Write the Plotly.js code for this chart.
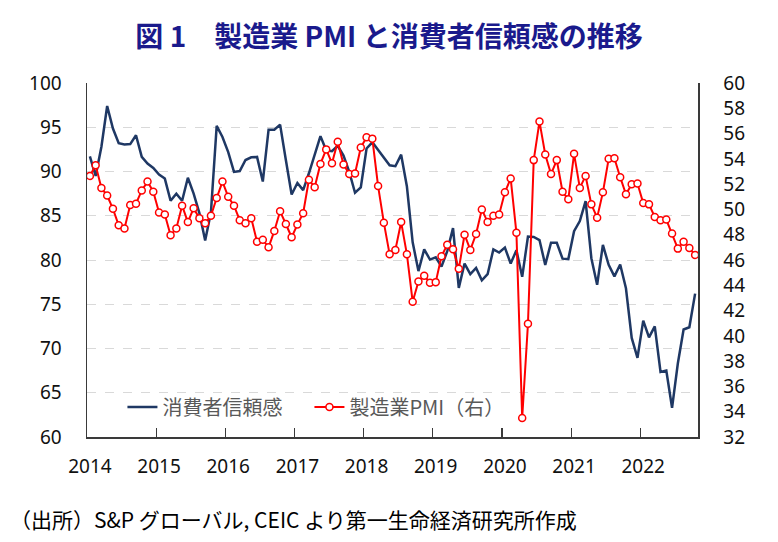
<!DOCTYPE html>
<html>
<head>
<meta charset="utf-8">
<script src="https://cdn.plot.ly/plotly-3.0.1.min.js"></script>
<style>html,body{margin:0;padding:0;background:#fff;}#chart{width:778px;height:542px;}</style>
</head>
<body>
<div id="chart"></div>
<script>
// Monthly data, Jan 2014 – Oct 2022
const yearLabels = ['2014','2015','2016','2017','2018','2019','2020','2021','2022'];

// 消費者信頼感 (left axis)
const consumerConfidence = [
  91.7, 89.5, 92.8, 97.4, 94.85, 93.2, 93.05, 93.1, 94.1, 91.65, 90.9, 90.4,
  89.65, 89.2, 86.7, 87.5, 86.7, 89.3, 87.5, 85.3, 82.2, 85.4, 95.15, 93.9,
  92.2, 89.95, 90.05, 91.3, 91.6, 91.65, 88.87, 94.73, 94.73, 95.3, 91.3, 87.4,
  88.7, 87.9, 89.8, 91.9, 94.0, 92.4, 92.3, 92.9, 91.8, 89.95, 87.6, 88.2,
  92.6, 93.3, 92.4, 91.55, 90.7, 90.6, 91.9, 88.3, 82.0, 78.75, 81.2, 80.05,
  80.3, 79.25, 81.0, 83.6, 76.85, 79.6, 78.4, 79.1, 77.7, 78.4, 81.2, 80.85,
  81.4, 79.6, 81.1, 78.1, 82.65, 82.6, 82.25, 79.45, 81.95, 81.95, 80.15, 80.1,
  83.25, 84.4, 86.65, 80.2, 77.2, 81.7, 79.45, 78.15, 79.5, 76.8, 71.2, 68.95,
  73.15, 71.25, 72.5, 67.35, 67.5, 63.3, 68.3, 72.15, 72.4, 76.2
];

// 製造業PMI (right axis)
const manufacturingPMI = [
  52.65, 53.5, 51.7, 51.1, 50.05, 48.75, 48.5, 50.35, 50.45, 51.5, 52.2, 51.4,
  49.75, 49.6, 47.95, 48.5, 50.3, 49.0, 50.1, 49.3, 48.9, 49.5, 50.9, 52.2,
  51.0, 50.3, 49.15, 48.9, 49.3, 47.45, 47.6, 47.0, 48.3, 49.85, 48.85, 47.8,
  48.8, 49.7, 52.35, 51.75, 53.6, 54.75, 53.65, 55.35, 53.55, 52.8, 52.85, 54.9,
  55.7, 55.6, 51.85, 48.95, 46.45, 46.8, 49.0, 46.45, 42.7, 44.3, 44.75, 44.2,
  44.25, 46.3, 47.2, 46.85, 45.3, 48.0, 46.8, 48.05, 50.0, 49.0, 49.5, 49.6,
  51.35, 52.45, 48.15, 33.5, 40.95, 53.9, 56.95, 54.35, 52.8, 53.9, 51.4, 50.8,
  54.4, 51.7, 52.65, 50.4, 49.35, 51.35, 54.0, 54.05, 52.55, 51.2, 52.0, 52.05,
  50.5, 50.4, 49.4, 49.15, 49.2, 48.1, 46.9, 47.45, 46.95, 46.4
];

const monthIndex = consumerConfidence.map((_, i) => i);
const yearTickPos = yearLabels.map((_, k) => k * 12);          // label at January
const yearBoundaryPos = yearLabels.slice(1).map((_, k) => (k + 1) * 12 - 0.5); // tick marks between Dec and Jan
const xRange = [-0.5, monthIndex.length - 0.5];

const tickFont = {family: 'Noto Sans, DejaVu Sans, sans-serif', size: 19, color: '#111'};
const lineColor = '#3a3a3a';

const traces = [
  {
    x: monthIndex, y: consumerConfidence, name: '消費者信頼感',
    type: 'scatter', mode: 'lines',
    line: {color: '#1F3864', width: 2.5},
    xaxis: 'x', yaxis: 'y'
  },
  {
    x: monthIndex, y: manufacturingPMI, name: '製造業PMI（右）',
    type: 'scatter', mode: 'lines+markers',
    line: {color: '#FF0000', width: 2},
    marker: {symbol: 'circle', size: 7, color: '#FFFFFF', line: {color: '#FF0000', width: 1.5}},
    xaxis: 'x2', yaxis: 'y2'
  }
];

const layout = {
  width: 778, height: 542,
  margin: {l: 87, r: 80, t: 83, b: 105},
  paper_bgcolor: '#fff', plot_bgcolor: '#fff',
  title: {
    text: '<b>図 1　製造業 PMI と消費者信頼感の推移</b>',
    font: {family: 'Noto Sans CJK JP, sans-serif', size: 28, color: '#1A1A8C'},
    x: 0.5, xanchor: 'center', xref: 'container',
    y: 1 - 37 / 542, yanchor: 'middle', yref: 'container'
  },
  showlegend: true,
  legend: {
    orientation: 'h', x: 0.058, xanchor: 'left', y: 0.085, yanchor: 'middle',
    bgcolor: 'rgba(0,0,0,0)',
    font: {family: 'Noto Sans CJK JP, sans-serif', size: 20, color: '#595959'},
    itemwidth: 30, traceorder: 'normal',
    entrywidth: 142, entrywidthmode: 'pixels'
  },
  xaxis: {
    range: xRange, tickmode: 'array', tickvals: yearTickPos, ticktext: yearLabels,
    ticks: '', showgrid: false, zeroline: false,
    showline: true, linecolor: lineColor, linewidth: 1.5,
    tickfont: tickFont, ticklabelstandoff: 12
  },
  xaxis2: {
    range: xRange, overlaying: 'x', anchor: 'y', side: 'bottom',
    tickmode: 'array', tickvals: yearBoundaryPos,
    ticks: 'inside', ticklen: 9, tickwidth: 1.2, tickcolor: lineColor,
    showticklabels: false, showgrid: false, zeroline: false, showline: false
  },
  yaxis: {
    range: [60, 100], dtick: 5, tick0: 60,
    showgrid: true, gridcolor: '#D9D9D9', griddash: 'dash', gridwidth: 1,
    zeroline: false, ticks: '',
    showline: true, linecolor: lineColor, linewidth: 1.5,
    tickfont: tickFont, ticklabelstandoff: 20
  },
  yaxis2: {
    range: [32, 60], dtick: 2, tick0: 32,
    overlaying: 'y', side: 'right', anchor: 'x2',
    showgrid: false, zeroline: false, ticks: '',
    showline: true, linecolor: lineColor, linewidth: 1.5,
    tickfont: tickFont, ticklabelstandoff: 20
  },
  annotations: [
    {
      text: '（出所）S&P グローバル, CEIC より第一生命経済研究所作成',
      xref: 'paper', yref: 'paper',
      x: (8 - 87) / 611, xanchor: 'left',
      y: (437 - 519) / 354, yanchor: 'middle',
      showarrow: false,
      font: {family: 'Noto Sans CJK JP, sans-serif', size: 21, color: '#000'}
    }
  ]
};

Plotly.newPlot('chart', traces, layout, {displayModeBar: false, staticPlot: true});
</script>
</body>
</html>
